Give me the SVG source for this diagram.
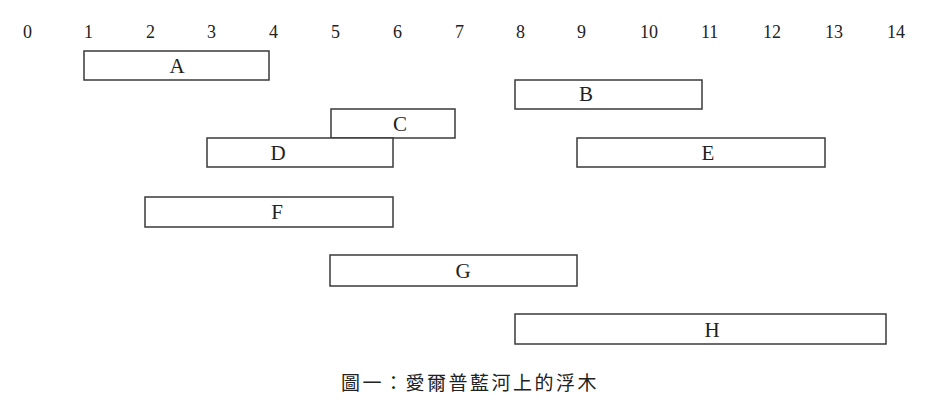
<svg xmlns="http://www.w3.org/2000/svg" width="944" height="402" viewBox="0 0 944 402">
<style>
.bx{fill:#fff;stroke:#3a3a3a;stroke-width:1.5}
.tk{font-family:"Liberation Serif",serif;font-size:18px;fill:#222}
.lb{font-family:"Liberation Serif",serif;font-size:21px;fill:#222;text-anchor:middle}
.cap{font-family:"Liberation Serif","Noto Sans CJK TC",serif;font-size:19px;fill:#222;text-anchor:middle;letter-spacing:2.5px}
</style>
<rect width="944" height="402" fill="#fff"/>
<g id="axis" class="tk">
<text x="23" y="38">0</text>
<text x="84" y="38">1</text>
<text x="146" y="38">2</text>
<text x="207" y="38">3</text>
<text x="269" y="38">4</text>
<text x="331" y="38">5</text>
<text x="393" y="38">6</text>
<text x="455" y="38">7</text>
<text x="516" y="38">8</text>
<text x="577" y="38">9</text>
<text x="640" y="38">10</text>
<text x="701" y="38">11</text>
<text x="763" y="38">12</text>
<text x="825" y="38">13</text>
<text x="887" y="38">14</text>
</g>
<g id="A"><rect class="bx" x="84" y="51" width="185" height="29"/><text class="lb" x="177" y="73">A</text></g>
<g id="B"><rect class="bx" x="515" y="80" width="187" height="29"/><text class="lb" x="586" y="101">B</text></g>
<g id="C"><rect class="bx" x="331" y="109" width="124" height="29"/><text class="lb" x="400" y="131">C</text></g>
<g id="D"><rect class="bx" x="207" y="138" width="186" height="29"/><text class="lb" x="278" y="160">D</text></g>
<g id="E"><rect class="bx" x="577" y="138" width="248" height="29"/><text class="lb" x="708" y="160">E</text></g>
<g id="F"><rect class="bx" x="145" y="197" width="248" height="30"/><text class="lb" x="277" y="219">F</text></g>
<g id="G"><rect class="bx" x="330" y="255" width="247" height="31"/><text class="lb" x="463" y="278">G</text></g>
<g id="H"><rect class="bx" x="515" y="314" width="371" height="30"/><text class="lb" x="712" y="337">H</text></g>
<g id="connectors"></g>
<text class="cap" x="470" y="390">圖一：愛爾普藍河上的浮木</text>
</svg>
